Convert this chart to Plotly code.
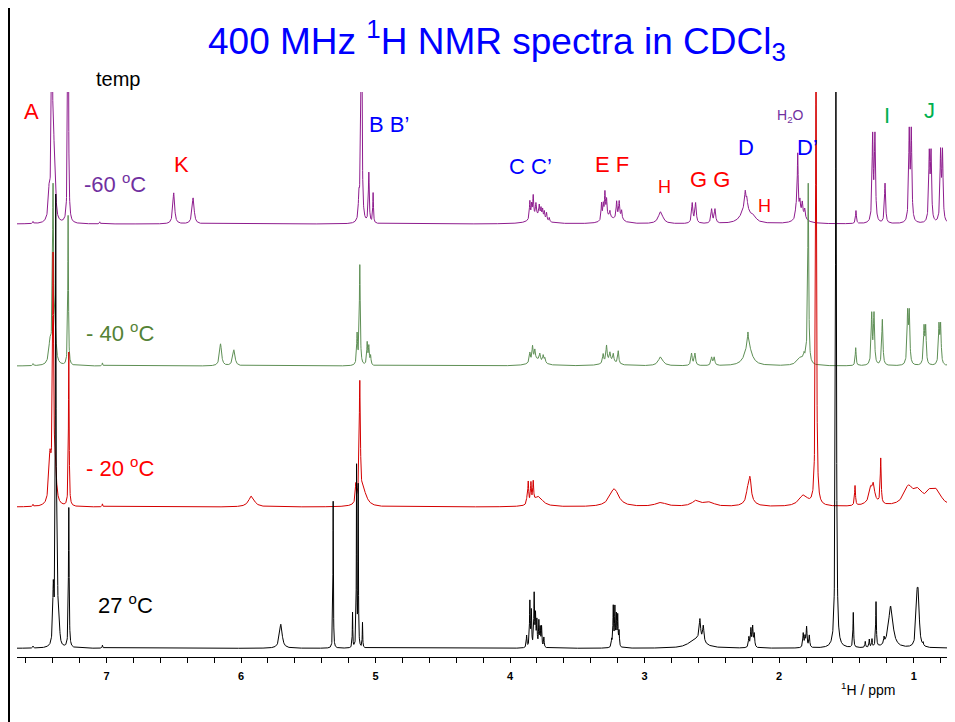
import numpy as np
import plotly.graph_objects as go

# ---------------- data: peak lists ----------------
# each spectrum: chemical shift (ppm), peak height (px above its baseline), half width (ppm)
m60_ppm = [7.546, 7.425, 7.405, 7.392, 7.380, 7.2855, 7.05, 6.500, 6.356,
           5.124, 5.112, 5.104, 5.050, 5.018,
           3.800, 3.853, 3.840, 3.828, 3.808, 3.783, 3.770, 3.758, 3.745, 3.729, 3.709,
           3.270, 3.190, 3.320, 3.307, 3.295, 3.283, 3.258, 3.208, 3.189, 3.171,
           2.881, 2.646, 2.621, 2.502, 2.477,
           2.250, 2.252, 2.240, 2.190,
           1.840, 1.875, 1.862, 1.846, 1.828, 1.810,
           1.429, 1.305, 1.288, 1.213, 1.033, 1.018, 0.884, 0.871, 0.800, 0.786]
m60_h = [2, 30, 300, 60, 30, 400, 2, 31, 26,
         22, 45, 250, 50, 30,
         8, 18, 13, 21, 12, 11, 9, 9, 8, 8, 4,
         6, 6, 17, 14, 25, 17, 6, 16, 15, 8,
         12, 20, 20, 14, 14,
         18, 14, 8, 5,
         8, 10, 62, 13, 13, 9,
         13, 85, 85, 40, 88, 88, 66, 66, 68, 68]
m60_w = [0.003, 0.008, 0.004, 0.006, 0.006, 0.003, 0.003, 0.008, 0.009,
         0.004, 0.004, 0.004, 0.004, 0.003,
         0.05, 0.004, 0.004, 0.004, 0.004, 0.004, 0.004, 0.004, 0.004, 0.004, 0.004,
         0.04, 0.03, 0.004, 0.004, 0.004, 0.004, 0.004, 0.004, 0.004, 0.004,
         0.02, 0.006, 0.006, 0.006, 0.006,
         0.035, 0.005, 0.005, 0.02,
         0.04, 0.005, 0.004, 0.005, 0.005, 0.005,
         0.004, 0.005, 0.005, 0.005, 0.005, 0.005, 0.005, 0.005, 0.005, 0.005]

m40_ppm = [7.546, 7.420, 7.397, 7.380, 7.285, 7.03, 6.152, 6.053,
           5.137, 5.117, 5.062, 5.050, 5.037,
           3.800, 3.853, 3.833, 3.816, 3.779, 3.754, 3.741,
           3.260, 3.308, 3.283, 3.258, 3.233, 3.196,
           2.881, 2.651, 2.626, 2.502, 2.483,
           2.230, 2.232,
           1.840, 1.815, 1.800, 1.784,
           1.431, 1.312, 1.295, 1.233, 1.045, 1.033, 0.923, 0.911, 0.812, 0.800]
m40_h = [2, 20, 175, 25, 150, 3, 22, 16,
         30, 100, 22, 18, 9,
         6, 10, 15, 10, 7, 7, 5,
         5, 9, 16, 8, 8, 13,
         9, 12, 12, 8, 8,
         22, 12,
         8, 6, 8, 180,
         18, 50, 50, 46, 50, 50, 36, 36, 38, 38]
m40_w = [0.003, 0.01, 0.005, 0.008, 0.003, 0.003, 0.009, 0.01,
         0.004, 0.004, 0.004, 0.004, 0.004,
         0.05, 0.005, 0.005, 0.005, 0.005, 0.005, 0.005,
         0.05, 0.005, 0.005, 0.005, 0.005, 0.005,
         0.02, 0.006, 0.006, 0.006, 0.006,
         0.03, 0.004,
         0.03, 0.005, 0.005, 0.004,
         0.004, 0.005, 0.005, 0.005, 0.005, 0.005, 0.005, 0.005, 0.005, 0.005]

m20_ppm = [7.546, 7.420, 7.397, 7.380, 7.280, 7.03, 5.922,
           5.147, 5.117, 5.090,
           3.875, 3.865, 3.845, 3.828, 3.790,
           3.226, 2.880, 2.614, 2.515,
           2.235, 2.217, 2.220,
           1.820, 1.726,
           1.436, 1.320, 1.300, 1.310, 1.245,
           1.040, 0.966, 0.880, 0.829]
m20_h = [2, 45, 240, 30, 154, 3, 11,
         18, 118, 15,
         5, 22, 20, 20, 10,
         18, 4, 6, 4,
         10, 22, 6,
         11, 500,
         20, 10, 14, 8, 45,
         18, 13, 10, 14]
m20_w = [0.003, 0.01, 0.005, 0.01, 0.003, 0.003, 0.025,
         0.004, 0.005, 0.03,
         0.004, 0.004, 0.004, 0.004, 0.04,
         0.04, 0.05, 0.04, 0.04,
         0.01, 0.01, 0.04,
         0.04, 0.004,
         0.004, 0.01, 0.01, 0.04, 0.004,
         0.04, 0.04, 0.03, 0.04]

r27_ppm = [7.546, 7.395, 7.377, 7.366, 7.352, 7.280, 7.03, 5.704, 5.315,
           5.171, 5.141, 5.129, 5.097,
           3.877, 3.853, 3.842, 3.821, 3.811, 3.801, 3.786, 3.776, 3.766, 3.749,
           3.245, 3.233, 3.221, 3.210, 3.200, 3.190,
           2.650, 2.600, 2.589, 2.564,
           2.225, 2.210, 2.197, 2.185,
           1.821, 1.808, 1.796, 1.776,
           1.578, 1.449, 1.360, 1.330, 1.310, 1.280, 1.220, 1.171,
           0.975, 0.965, 0.930]
r27_h = [2, 55, 440, 80, 22, 140, 3, 24, 147,
         35, 180, 160, 25,
         12, 45, 35, 52, 30, 25, 25, 18, 20, 10,
         7, 40, 38, 30, 30, 15,
         3, 8, 20, 16,
         10, 18, 20, 13,
         14, 10, 20, 12,
         600, 35, 6, 8, 8, 45, 6, 42,
         42, 42, 3]
r27_w = [0.003, 0.005, 0.003, 0.004, 0.005, 0.003, 0.003, 0.012, 0.002,
         0.002, 0.002, 0.002, 0.002,
         0.003, 0.003, 0.003, 0.003, 0.003, 0.003, 0.003, 0.003, 0.003, 0.003,
         0.003, 0.003, 0.003, 0.003, 0.003, 0.003,
         0.05, 0.05, 0.006, 0.006,
         0.004, 0.004, 0.004, 0.004,
         0.004, 0.004, 0.004, 0.004,
         0.004, 0.003, 0.003, 0.003, 0.003, 0.003, 0.003, 0.02,
         0.008, 0.008, 0.003]

temps = ["-60", "-40", "-20", "27"]
baseline_offsets = [433, 291, 150, 8.7]   # vertical stacking (px above axis line)

tick_vals = [7, 6, 5, 4, 3, 2, 1]
tick_text = ["7", "6", "5", "4", "3", "2", "1"]

# ---------------- layout geometry ----------------
# the page body has an 8px margin, so the figure is drawn 8px smaller and
# all window-pixel positions are shifted by that amount
PAD = 8
W, H = 955 - PAD, 722 - PAD
L, R, T, B = 17 - PAD, 0, 92 - PAD, 722 - 657
PW, PH = W - L - R, H - T - B
X_RANGE = [7.665, 0.693]
Y_RANGE = [0, PH]


def ax(px):
    return (px - PAD - L) / PW


def ay(py):
    return (H - B - (py - PAD)) / PH


grid = np.arange(0.69, 7.67, 0.001)


def spectrum(ppm, h, w, offset):
    p = np.asarray(ppm, float)
    hh = np.asarray(h, float)
    ww = np.asarray(w, float)
    x = np.union1d(grid, p)
    y = np.full_like(x, offset)
    for pi, hi, wi in zip(p, hh, ww):
        y += hi * wi ** 2 / ((x - pi) ** 2 + wi ** 2)
    return x, y


colors = ["#8E1C8E", "#5E8F55", "#D40000", "#000000"]
series = [(m60_ppm, m60_h, m60_w), (m40_ppm, m40_h, m40_w),
          (m20_ppm, m20_h, m20_w), (r27_ppm, r27_h, r27_w)]

fig = go.Figure()
for (pp, hh, ww), off, col, t in zip(series, baseline_offsets, colors, temps):
    x, y = spectrum(pp, hh, ww, off)
    fig.add_trace(go.Scatter(x=x, y=y, mode="lines", name=t + " °C",
                             line=dict(color=col, width=1), hoverinfo="skip"))

FONT = "Liberation Sans, Arial, sans-serif"
RED, BLUE, GREEN, PURPLE = "#FF0000", "#0000FF", "#00B050", "#7030A0"
DEG = "<sup><span style='font-size:15px'>o</span></sup>"

labels = [
    ("A", 31.7, 111.5, RED, 22),
    ("temp", 118, 79, "#000000", 20),
    ("-60 " + DEG + "C", 115, 183, PURPLE, 22),
    ("K", 181.7, 165, RED, 22),
    ("B B’", 389, 125, BLUE, 22),
    ("C C’", 530, 166, BLUE, 22),
    ("E F", 612, 165, RED, 22),
    ("H", 664, 187, RED, 18),
    ("G G", 710, 179, RED, 22),
    ("D", 746, 147, BLUE, 22),
    ("H", 764, 206, RED, 18),
    ("H<sub>2</sub>O", 790, 116, PURPLE, 14),
    ("D’", 807, 147, BLUE, 22),
    ("I", 886.7, 115, GREEN, 22),
    ("J", 929, 110, GREEN, 22),
    ("- 40 " + DEG + "C", 120, 332, "#548235", 22),
    ("- 20 " + DEG + "C", 120, 467, RED, 22),
    ("27 " + DEG + "C", 125, 604, "#000000", 22),
    ("<sup>1</sup>H / ppm", 868, 689, "#000000", 14),
    ("400 MHz <sup>1</sup>H NMR spectra in CDCl<sub>3</sub>", 497, 41, BLUE, 37),
]
annotations = [
    dict(text=t, x=ax(px), y=ay(py), xref="paper", yref="paper",
         xanchor="center", yanchor="middle", showarrow=False,
         font=dict(family=FONT, size=s, color=c))
    for t, px, py, c, s in labels
]

shapes = [
    dict(type="line", xref="paper", yref="paper", x0=ax(9), x1=ax(9), y0=ay(0), y1=ay(722),
         line=dict(color="#000000", width=2)),
    dict(type="line", xref="paper", yref="paper", x0=ax(952), x1=ax(952), y0=ay(668), y1=ay(684),
         line=dict(color="#000000", width=1.5)),
]

fig.update_layout(
    width=W, height=H, margin=dict(l=L, r=R, t=T, b=B),
    paper_bgcolor="white", plot_bgcolor="white", showlegend=False,
    annotations=annotations, shapes=shapes,
    xaxis=dict(range=X_RANGE, showgrid=False, zeroline=False,
               showline=True, linecolor="#000000", linewidth=1.2,
               tickmode="array", tickvals=tick_vals, ticktext=tick_text,
               ticks="outside", ticklen=5, tickcolor="#000000", tickwidth=1,
               ticklabelstandoff=4,
               tickfont=dict(family=FONT, size=11, color="#000000", weight="bold"),
               minor=dict(dtick=0.2, tick0=0, ticks="outside", ticklen=5,
                          tickcolor="#000000", tickwidth=1, showgrid=False)),
    yaxis=dict(range=Y_RANGE, visible=False, fixedrange=True),
)

fig.write_html("out.html")
